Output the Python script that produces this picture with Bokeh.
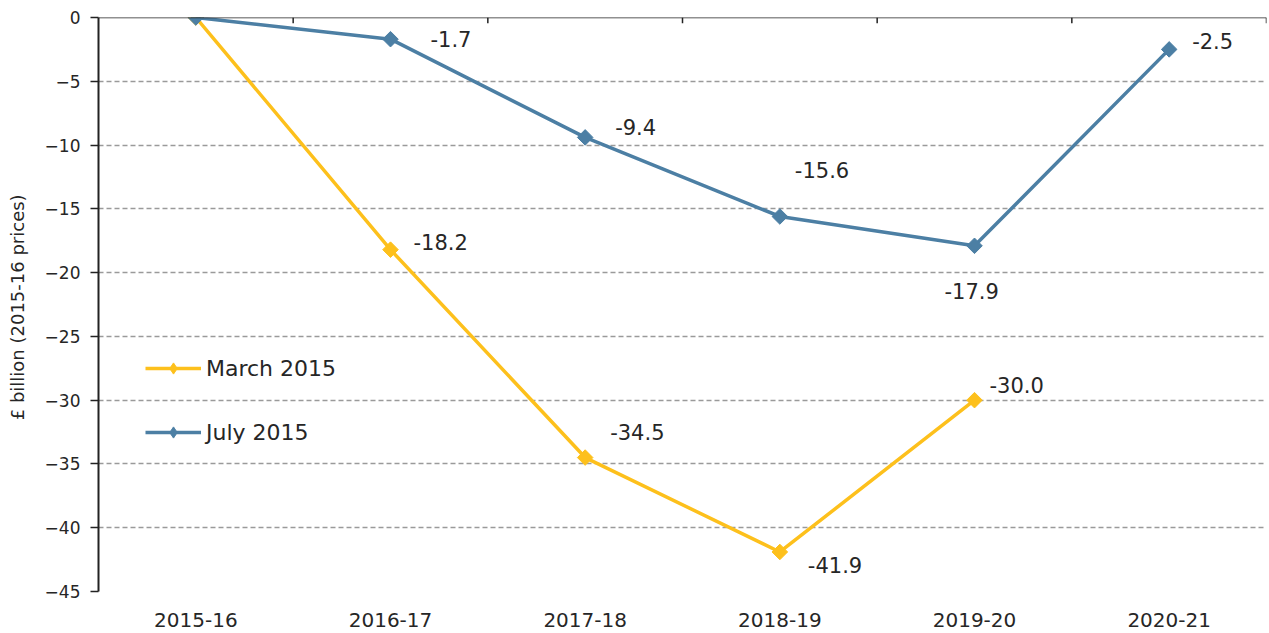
import math
from bokeh.plotting import figure
from bokeh.models import (FactorRange, Range1d, FixedTicker, ColumnDataSource,
                          LabelSet, Legend, LegendItem, Span)
from bokeh.core.properties import value
from bokeh.transform import dodge
from bokeh.embed import file_html
from bokeh.resources import INLINE

years = ["2015-16", "2016-17", "2017-18", "2018-19", "2019-20", "2020-21"]
march_years = ["2015-16", "2016-17", "2017-18", "2018-19", "2019-20"]
march_2015 = [0.0, -18.2, -34.5, -41.9, -30.0]
july_2015 = [0.0, -1.7, -9.4, -15.6, -17.9, -2.5]
y_ticks = [0, -5, -10, -15, -20, -25, -30, -35, -40, -45]

YELLOW = "#FDC01C"
BLUE = "#4C7FA4"
TEXT = "#262626"
FONT = "DejaVu Sans"

p = figure(x_range=FactorRange(*years), y_range=Range1d(-45, 0),
           width=1269, height=633, output_backend="svg", toolbar_location=None,
           min_border_left=98, min_border_right=3, min_border_top=17, min_border_bottom=42)
p.outline_line_color = None
p.background_fill_color = "white"

# grid
p.xgrid.grid_line_color = None
p.ygrid.ticker = FixedTicker(ticks=y_ticks)
p.ygrid.grid_line_color = "#9a9a9a"
p.ygrid.grid_line_dash = "5 3"
p.ygrid.grid_line_width = 1.5

# y axis
p.yaxis.ticker = FixedTicker(ticks=y_ticks)
p.yaxis.axis_line_color = "#222222"
p.yaxis.axis_line_width = 2
p.yaxis.major_tick_line_color = "#222222"
p.yaxis.major_tick_line_width = 1.5
p.yaxis.major_tick_out = 8
p.yaxis.major_tick_in = 0
p.yaxis.minor_tick_line_color = None
p.yaxis.major_label_standoff = 10
p.yaxis.major_label_text_font = FONT
p.yaxis.major_label_text_font_size = "17px"
p.yaxis.major_label_text_color = TEXT
p.yaxis.axis_label = "£ billion (2015-16  prices)"
p.yaxis.axis_label_text_font = FONT
p.yaxis.axis_label_text_font_size = "18px"
p.yaxis.axis_label_text_font_style = "normal"
p.yaxis.axis_label_text_color = TEXT
p.yaxis.axis_label_standoff = 14

# x axis (labels at bottom)
p.xaxis.axis_line_color = None
p.xaxis.major_tick_line_color = None
p.xaxis.minor_tick_line_color = None
p.xaxis.major_label_standoff = 15
p.xaxis.major_label_text_font = FONT
p.xaxis.major_label_text_font_size = "20px"
p.xaxis.major_label_text_color = TEXT

# category axis line at zero (top) with boundary ticks
p.add_layout(Span(location=0, dimension="width", line_color="#222222", line_width=1.5))
bnd = ColumnDataSource(dict(x=years, y0=[0.0] * len(years), y1=[-0.45] * len(years)))
p.segment(x0=dodge("x", 0.5, range=p.x_range), y0="y0",
          x1=dodge("x", 0.5, range=p.x_range), y1="y1",
          source=bnd, line_color="#222222", line_width=1.5)

# series
src_m = ColumnDataSource(dict(x=march_years, y=march_2015))
src_j = ColumnDataSource(dict(x=years, y=july_2015))

lm = p.line("x", "y", source=src_m, line_color=YELLOW, line_width=3.5)
dm = p.scatter("x", "y", source=src_m, marker="diamond", size=13,
               fill_color=YELLOW, line_color=YELLOW)
p.scatter("x", "y", source=src_m, marker="square", angle=math.pi / 4, size=11,
          fill_color=YELLOW, line_color=YELLOW)
lj = p.line("x", "y", source=src_j, line_color=BLUE, line_width=3.5)
dj = p.scatter("x", "y", source=src_j, marker="diamond", size=13,
               fill_color=BLUE, line_color=BLUE)
p.scatter("x", "y", source=src_j, marker="square", angle=math.pi / 4, size=11,
          fill_color=BLUE, line_color=BLUE)

# data labels (non-zero points)
j_dx = [40, 30, 15, -30, 23]
j_dy = [0, 10, 46, -45, 8]
m_dx = [23, 25, 28, 15]
m_dy = [8, 26, -13, 15]

lab_j = ColumnDataSource(dict(x=years[1:], y=july_2015[1:],
                              t=["%.1f" % v for v in july_2015[1:]], dx=j_dx, dy=j_dy))
lab_m = ColumnDataSource(dict(x=march_years[1:], y=march_2015[1:],
                              t=["%.1f" % v for v in march_2015[1:]], dx=m_dx, dy=m_dy))
for src in (lab_j, lab_m):
    ls = LabelSet(x="x", y="y", text="t", x_offset="dx", y_offset="dy", source=src,
                  text_font=value("DejaVu Sans"), text_font_size="21px", text_color=TEXT,
                  text_align="left", text_baseline="middle")
    p.add_layout(ls)

legend = Legend(items=[LegendItem(label="March 2015", renderers=[lm, dm]),
                       LegendItem(label="July 2015", renderers=[lj, dj])],
                location=(47, 145), orientation="vertical")
legend.border_line_color = None
legend.background_fill_alpha = 0
legend.padding = 0
legend.margin = 0
legend.spacing = 36
legend.glyph_width = 56
legend.glyph_height = 28
legend.label_height = 28
legend.label_standoff = 5
legend.label_text_font = FONT
legend.label_text_font_size = "22px"
legend.label_text_color = TEXT
p.add_layout(legend, "center")

open("out.html", "w").write(file_html(p, INLINE))
